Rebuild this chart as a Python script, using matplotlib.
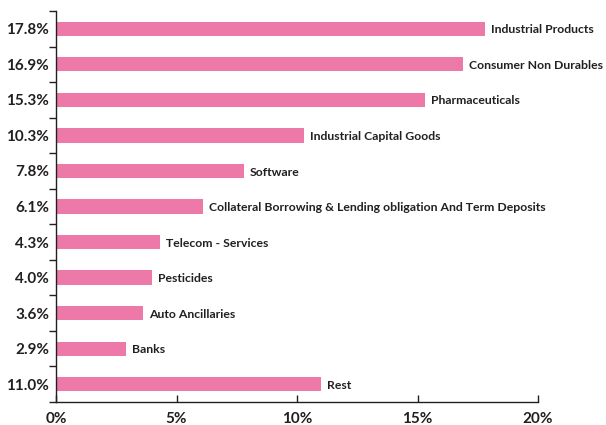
import numpy as np
import matplotlib.pyplot as plt
from matplotlib.ticker import FixedLocator

plt.rcParams['font.family'] = ['Lato', 'DejaVu Sans']

sectors = ['Industrial Products', 'Consumer Non Durables', 'Pharmaceuticals',
           'Industrial Capital Goods', 'Software',
           'Collateral Borrowing & Lending obligation And Term Deposits',
           'Telecom - Services', 'Pesticides', 'Auto Ancillaries', 'Banks', 'Rest']
weights = [17.8, 16.9, 15.3, 10.3, 7.8, 6.1, 4.3, 4.0, 3.6, 2.9, 11.0]
xticks = [0, 5, 10, 15, 20]

ink = '#231f20'
bar_color = '#ec79a8'

fig = plt.figure(figsize=(6.06, 4.25), dpi=100)
ax = fig.add_axes([56 / 606, 1 - 402 / 425, (538 - 56) / 606, (402 - 11) / 425])

y = np.arange(len(sectors))
ax.barh(y, weights, height=0.4, color=bar_color)
for yi, w, name in zip(y, weights, sectors):
    ax.text(w + 0.25, yi + 0.03, name, va='center', ha='left', fontsize=8.8,
            fontweight='bold', color=ink)

ax.set_xlim(0, 20)
ax.set_ylim(len(sectors) - 0.5, -0.5)

ax.set_yticks(y)
ax.set_yticklabels(['%.1f%%' % w for w in weights], fontsize=11,
                   fontweight='bold', color=ink)
ax.yaxis.set_minor_locator(FixedLocator(np.arange(-0.5, len(sectors), 1)))
ax.tick_params(axis='y', which='major', length=0, pad=5)
ax.tick_params(axis='y', which='minor', length=5, width=1, color=ink,
               direction='out')

ax.set_xticks(xticks)
ax.set_xticklabels(['%d%%' % t for t in xticks], fontsize=11,
                   fontweight='bold', color=ink)
ax.tick_params(axis='x', length=5, width=1, color=ink, direction='in', pad=7)

for side in ['top', 'right']:
    ax.spines[side].set_visible(False)
for side in ['left', 'bottom']:
    ax.spines[side].set_color(ink)
    ax.spines[side].set_linewidth(1)

fig.savefig('out.png', dpi=100)
